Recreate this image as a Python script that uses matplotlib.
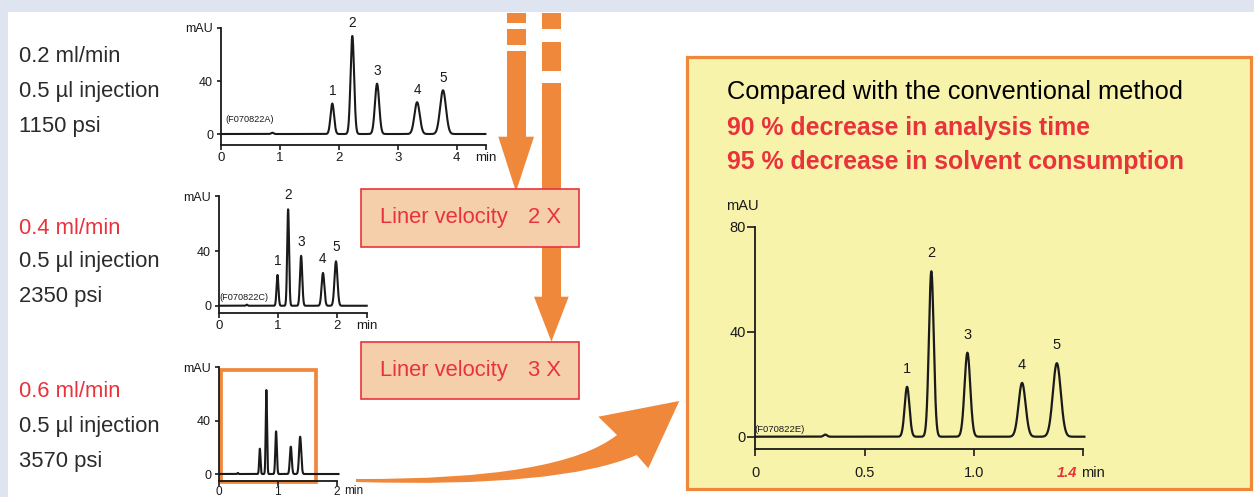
import numpy as np
import matplotlib.pyplot as plt
import matplotlib.transforms as mtransforms
from matplotlib.patches import Rectangle, Polygon, PathPatch
from matplotlib.path import Path

plt.rcParams['font.family'] = ['Liberation Sans', 'DejaVu Sans']

W, H = 1254, 497

# peak data: retention time (min), height (mAU), width (sigma, min)
peak_names = ['1', '2', '3', '4', '5']

rt_02 = [1.89, 2.23, 2.65, 3.33, 3.77]
h_02 = [23, 74, 38, 24, 33]
sd_02 = [0.030, 0.030, 0.036, 0.045, 0.050]

rt_04 = [0.99, 1.17, 1.39, 1.76, 1.98]
h_04 = [22.5, 70.5, 36.5, 24, 32.5]
sd_04 = [0.016, 0.016, 0.019, 0.023, 0.025]

rt_06 = [0.694, 0.805, 0.970, 1.22, 1.379]
h_06 = [19, 63, 32, 20.5, 28]
sd_06 = [0.011, 0.011, 0.013, 0.016, 0.018]

# small bumps in the baseline (time, height, sigma)
bump_02 = [0.87, 1.0, 0.02]
bump_04 = [0.47, 0.8, 0.012]
bump_06 = [0.32, 0.8, 0.008]

conditions = [
    ['0.2 ml/min', '0.5 µl injection', '1150 psi'],
    ['0.4 ml/min', '0.5 µl injection', '2350 psi'],
    ['0.6 ml/min', '0.5 µl injection', '3570 psi'],
]

ORANGE = '#f0883c'
RED = '#e8333c'
INK = '#1a1a1a'

fig = plt.figure(figsize=(W / 100, H / 100), dpi=100)
fig.patch.set_facecolor('white')
pxt = mtransforms.Affine2D().scale(1 / W, -1 / H).translate(0, 1) + fig.transFigure


def px_axes(left, top, right, bottom):
    ax = fig.add_axes([left / W, 1 - bottom / H, (right - left) / W, (bottom - top) / H])
    ax.set_facecolor('none')
    for s in ['top', 'right']:
        ax.spines[s].set_visible(False)
    for s in ['left', 'bottom']:
        ax.spines[s].set_linewidth(1.3)
        ax.spines[s].set_color(INK)
    return ax


def trace(t, rts, hs, sds, bump):
    y = np.zeros_like(t)
    for r, h, s in zip(rts, hs, sds):
        y += h * np.exp(-0.5 * ((t - r) / s) ** 2)
    y += bump[1] * np.exp(-0.5 * ((t - bump[0]) / bump[2]) ** 2)
    return y


def add_px(patch, z):
    patch.set_transform(pxt)
    patch.set_zorder(z)
    fig.add_artist(patch)


def ptext(x, y, s, **kw):
    fig.text(x, y, s, transform=pxt, **kw)


# background strips
add_px(Rectangle((0, 0), W, 12, facecolor='#dfe5f0', edgecolor='none'), -3)
add_px(Rectangle((0, 0), 8, H, facecolor='#dfe5f0', edgecolor='none'), -3)

# result panel
add_px(Rectangle((687, 57), 564, 432, facecolor='#f7f3aa', edgecolor=ORANGE, lw=2.3), -2)

# condition texts
ys = [[56, 91.7, 126.7], [228.3, 262, 296.7], [391.7, 426.7, 461.7]]
for i, lines in enumerate(conditions):
    for j, s in enumerate(lines):
        col = RED if (j == 0 and i > 0) else '#2b2b2b'
        ptext(19, ys[i][j], s, fontsize=15.8, color=col, ha='left', va='center')

# small chromatograms
small = [
    (rt_02, h_02, sd_02, bump_02, (221, 28, 486, 145), -8.3, 4.5, 4.49,
     [0, 1, 2, 3, 4, 4.5], ['0', '1', '2', '3', '4', 'min'], 9.0, True, 1.5, 9.5),
    (rt_04, h_04, sd_04, bump_04, (219, 196.3, 366.7, 313), -5.3, 2.5, 2.5,
     [0, 1, 2, 2.5], ['0', '1', '2', 'min'], 10.0, True, 1.5, 9.5),
    (rt_06, h_06, sd_06, bump_06, (219, 367.4, 336.7, 481), -5.25, 2.0, 2.03,
     [0, 1, 2], ['0', '1', '2'], 0, False, 0.2, 8.5),
]
for rts, hs, sds, bump, rect, ymin, xmax, tend, xt, xtl, off, labels, xpad, xsize in small:
    ax = px_axes(*rect)
    t = np.linspace(0, tend, 3000)
    ax.plot(t, trace(t, rts, hs, sds, bump), color=INK, lw=1.5, clip_on=False)
    ax.set_xlim(0, xmax)
    ax.set_ylim(ymin, 80)
    ax.set_yticks([0, 40, 80])
    ax.set_yticklabels(['0', '40', 'mAU'])
    ax.set_xticks(xt)
    ax.set_xticklabels(xtl)
    ax.tick_params(axis='y', length=3.2, width=1.2, pad=2.5, labelsize=9, colors=INK)
    ax.tick_params(axis='x', length=3.6, width=1.2, pad=xpad, labelsize=xsize, colors=INK)
    if labels:
        for r, h, n in zip(rts, hs, peak_names):
            ax.annotate(n, (r, h), xytext=(0, off), textcoords='offset points',
                        ha='center', va='center', fontsize=9.8, color=INK,
                        annotation_clip=False)

ptext(250, 119, '(F070822A)', fontsize=6.6, color=INK, ha='center', va='center')
ptext(244, 298, '(F070822C)', fontsize=6.6, color=INK, ha='center', va='center')
ptext(344, 490.5, 'min', fontsize=8.5, color=INK, ha='left', va='center')

# highlight box around the fast run
add_px(Rectangle((220.5, 370), 95.5, 111.5, facecolor='none', edgecolor=ORANGE, lw=2.7), -1)

# dashed arrows
for x0, x1, blocks, head in [
    (506.7, 526, [(13, 23), (28.7, 45), (51, 137.5)], [(498.3, 136.7), (534, 136.7), (516, 191.7)]),
    (541.7, 561, [(13.3, 29.3), (41.7, 71), (83.3, 297.5)], [(534, 296.7), (568.7, 296.7), (551.4, 341.7)]),
]:
    for a, b in blocks:
        add_px(Rectangle((x0, a), x1 - x0, b - a, facecolor=ORANGE, edgecolor='none'), 2)
    add_px(Polygon(head, closed=True, facecolor=ORANGE, edgecolor='none'), 2)

# velocity boxes
for top, bot, mult in [(189, 246.7, '2 X'), (341.7, 399, '3 X')]:
    add_px(Rectangle((360.7, top), 218.6, bot - top, facecolor='#f5cfa9', edgecolor=RED, lw=1.2), 3)
    yc = (top + bot) / 2
    ptext(380, yc, 'Liner velocity', fontsize=15.8, color=RED, ha='left', va='center', zorder=4)
    ptext(528, yc, mult, fontsize=15.8, color=RED, ha='left', va='center', zorder=4)

# curved arrow to the result panel
verts = [(356, 479), (560, 480), (617, 435), (598.3, 416.7), (679.3, 401),
         (648.3, 468.3), (636.7, 455), (560, 488), (356, 482), (356, 479)]
codes = [Path.MOVETO, Path.CURVE3, Path.CURVE3, Path.LINETO, Path.LINETO,
         Path.LINETO, Path.LINETO, Path.CURVE3, Path.CURVE3, Path.CLOSEPOLY]
add_px(PathPatch(Path(verts, codes), facecolor=ORANGE, edgecolor='none'), 2)

# result panel texts
ptext(727, 91.7, 'Compared with the conventional method', fontsize=18.3, color='black',
      ha='left', va='center')
ptext(727, 128.3, '90 % decrease in analysis time', fontsize=17.9, color=RED,
      fontweight='bold', ha='left', va='center')
ptext(727, 161.7, '95 % decrease in solvent consumption', fontsize=17.9, color=RED,
      fontweight='bold', ha='left', va='center')

# main chromatogram
ax = px_axes(755.3, 226.7, 1083.3, 449.3)
t = np.linspace(0, 1.505, 3000)
ax.plot(t, trace(t, rt_06, h_06, sd_06, bump_06), color=INK, lw=1.6, clip_on=False)
ax.set_xlim(0, 1.5)
ax.set_ylim(-4.8, 80)
ax.set_yticks([0, 40, 80])
ax.set_yticklabels(['0', '40', '80'])
ax.set_xticks([0, 0.5, 1.0, 1.5])
ax.set_xticklabels(['0', '0.5', '1.0', ''])
ax.tick_params(axis='y', length=6, width=1.2, pad=1, labelsize=10.5, colors=INK)
ax.tick_params(axis='x', length=5, width=1.2, pad=7, labelsize=10.5, colors=INK)
for r, h, n in zip(rt_06, h_06, peak_names):
    ax.annotate(n, (r, h), xytext=(0, 13), textcoords='offset points',
                ha='center', va='center', fontsize=10.5, color=INK, annotation_clip=False)

ptext(742.7, 206, 'mAU', fontsize=10.5, color=INK, ha='center', va='center')
ptext(780, 429, '(F070822E)', fontsize=6.8, color=INK, ha='center', va='center')
ptext(1077.5, 472.7, '1.4', fontsize=10.5, color=RED, fontweight='bold', fontstyle='italic',
      ha='right', va='center')
ptext(1081, 472.7, 'min', fontsize=10.5, color=INK, ha='left', va='center')

fig.savefig('out.png', dpi=100)
